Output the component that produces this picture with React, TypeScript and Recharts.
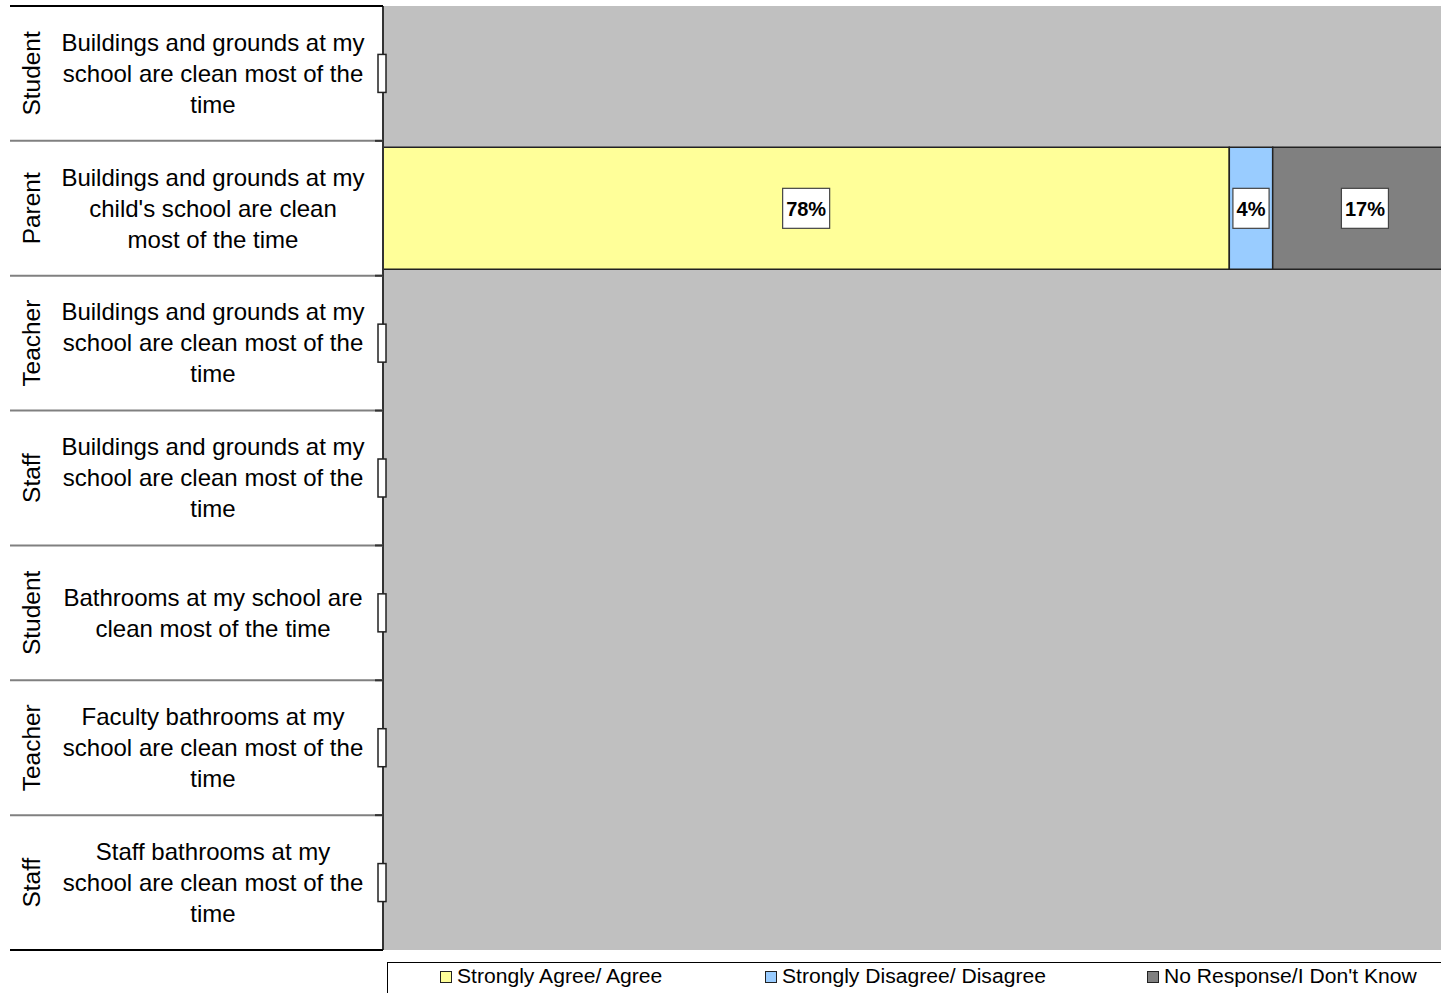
import React from 'react';
import { BarChart, Bar, XAxis, YAxis, CartesianGrid, Legend, LabelList } from 'recharts';

const groups = ['Student', 'Parent', 'Teacher', 'Staff', 'Student', 'Teacher', 'Staff'];
const questions = [
  'Buildings and grounds at my\nschool are clean most of the\ntime',
  "Buildings and grounds at my\nchild's school are clean\nmost of the time",
  'Buildings and grounds at my\nschool are clean most of the\ntime',
  'Buildings and grounds at my\nschool are clean most of the\ntime',
  'Bathrooms at my school are\nclean most of the time',
  'Faculty bathrooms at my\nschool are clean most of the\ntime',
  'Staff bathrooms at my\nschool are clean most of the\ntime',
];
const agreeValues = [0, 78, 0, 0, 0, 0, 0];
const disagreeValues = [0, 4, 0, 0, 0, 0, 0];
const noResponseValues = [0, 17, 0, 0, 0, 0, 0];
const seriesKeys = ['agree', 'disagree', 'noResponse'];
const seriesNames = ['Strongly Agree/ Agree', 'Strongly Disagree/ Disagree', "No Response/I Don't Know"];
const seriesColors = ['#FFFF99', '#99CCFF', '#808080'];

const data = groups.map((g, i) => ({
  key: String(i),
  group: g,
  question: questions[i],
  agree: agreeValues[i],
  disagree: disagreeValues[i],
  noResponse: noResponseValues[i],
}));

const FONT = '"Liberation Sans", Arial, sans-serif';
const ROW_H = 944 / 7;

const CategoryTick = (props: any) => {
  const { y, index } = props;
  const d = data[index];
  if (!d) return null;
  const lines = d.question.split('\n');
  const n = lines.length;
  const top = y - ROW_H / 2;
  const bottom = y + ROW_H / 2;
  const total = d.agree + d.disagree + d.noResponse;
  return (
    <g>
      <line x1={10} x2={383} y1={top} y2={top} stroke={index === 0 ? '#000' : '#808080'} strokeWidth={2} />
      {index > 0 && <line x1={375} x2={383} y1={top} y2={top} stroke="#333" strokeWidth={2} />}
      {index === data.length - 1 && (
        <line x1={10} x2={383} y1={bottom} y2={bottom} stroke="#000" strokeWidth={2} />
      )}
      <text
        transform={`translate(32,${y}) rotate(-90) scale(1.04,1)`}
        textAnchor="middle"
        dy="0.36em"
        fontSize={23.5}
        fontFamily={FONT}
        fill="#000"
      >
        {d.group}
      </text>
      <g transform={`translate(213,0) scale(1.045,1)`}>
        <text textAnchor="middle" fontSize={23} fontFamily={FONT} fill="#000">
          {lines.map((l: string, j: number) => (
            <tspan key={j} x={0} y={y + (j - (n - 1) / 2) * 31} dy="0.36em">
              {l}
            </tspan>
          ))}
        </text>
      </g>
      {total === 0 && (
        <rect x={378} y={y - 19} width={8} height={38} fill="#fff" stroke="#222" strokeWidth={1.5} />
      )}
    </g>
  );
};

const renderLabel = (props: any) => {
  const { x, y, width, height, value } = props;
  if (!value) return null;
  const cy = y + height / 2;
  const txt = `${value}%`;
  let tw = 0;
  for (const ch of txt) tw += ch === '%' ? 0.889 : 0.556;
  tw *= 19.5;
  const bw = tw + 8;
  const cx = x + width / 2;
  return (
    <g>
      <rect x={cx - bw / 2} y={cy - 20} width={bw} height={40} fill="#fff" stroke="#444" strokeWidth={1.2} />
      <text x={cx} y={cy} dy="0.36em" textAnchor="middle" fontSize={20} fontWeight="bold" fontFamily={FONT} fill="#000">
        {txt}
      </text>
    </g>
  );
};

const LegendContent = () => (
  <div
    style={{
      position: 'relative',
      width: 1100,
      height: 40,
      borderTop: '1.5px solid #000',
      borderLeft: '1.5px solid #000',
      boxSizing: 'border-box',
      fontFamily: FONT,
      fontSize: 20,
    }}
  >
    {seriesNames.map((name, i) => (
      <div
        key={name}
        style={{ position: 'absolute', left: [52, 377, 759][i], top: 2, display: 'flex', alignItems: 'center', whiteSpace: 'nowrap' }}
      >
        <span
          style={{
            display: 'inline-block',
            width: 10,
            height: 10,
            background: seriesColors[i],
            border: '1px solid #222',
            marginRight: 5,
          }}
        />
        <span style={{ color: '#000', display: 'inline-block', transform: 'scaleX(1.055)', transformOrigin: 'left center' }}>
          {name}
        </span>
      </div>
    ))}
  </div>
);

export default function App() {
  return (
    <div style={{ position: 'absolute', left: 0, top: 0, width: 1441, height: 993, overflow: 'hidden', background: '#fff' }}>
      <BarChart
        width={1476}
        height={993}
        data={data}
        layout="vertical"
        margin={{ top: 6, right: 8, bottom: 3, left: 10 }}
        barCategoryGap="4.8%"
      >
        <CartesianGrid fill="#C0C0C0" horizontal={false} vertical={false} stroke="none" />
        <XAxis type="number" domain={[0, 100]} hide />
        <YAxis
          type="category"
          dataKey="key"
          width={373}
          interval={0}
          tickLine={false}
          axisLine={{ stroke: '#333', strokeWidth: 2 }}
          tick={<CategoryTick />}
        />
        <Legend
          verticalAlign="bottom"
          content={<LegendContent />}
          wrapperStyle={{ left: 387, top: 962, bottom: 'auto', width: 1100, height: 40 }}
        />
        {seriesKeys.map((k, i) => (
          <Bar
            key={k}
            dataKey={k}
            name={seriesNames[i]}
            stackId="s"
            fill={seriesColors[i]}
            stroke="#222"
            strokeWidth={1.5}
            isAnimationActive={false}
          >
            <LabelList dataKey={k} content={renderLabel} />
          </Bar>
        ))}
      </BarChart>
    </div>
  );
}
